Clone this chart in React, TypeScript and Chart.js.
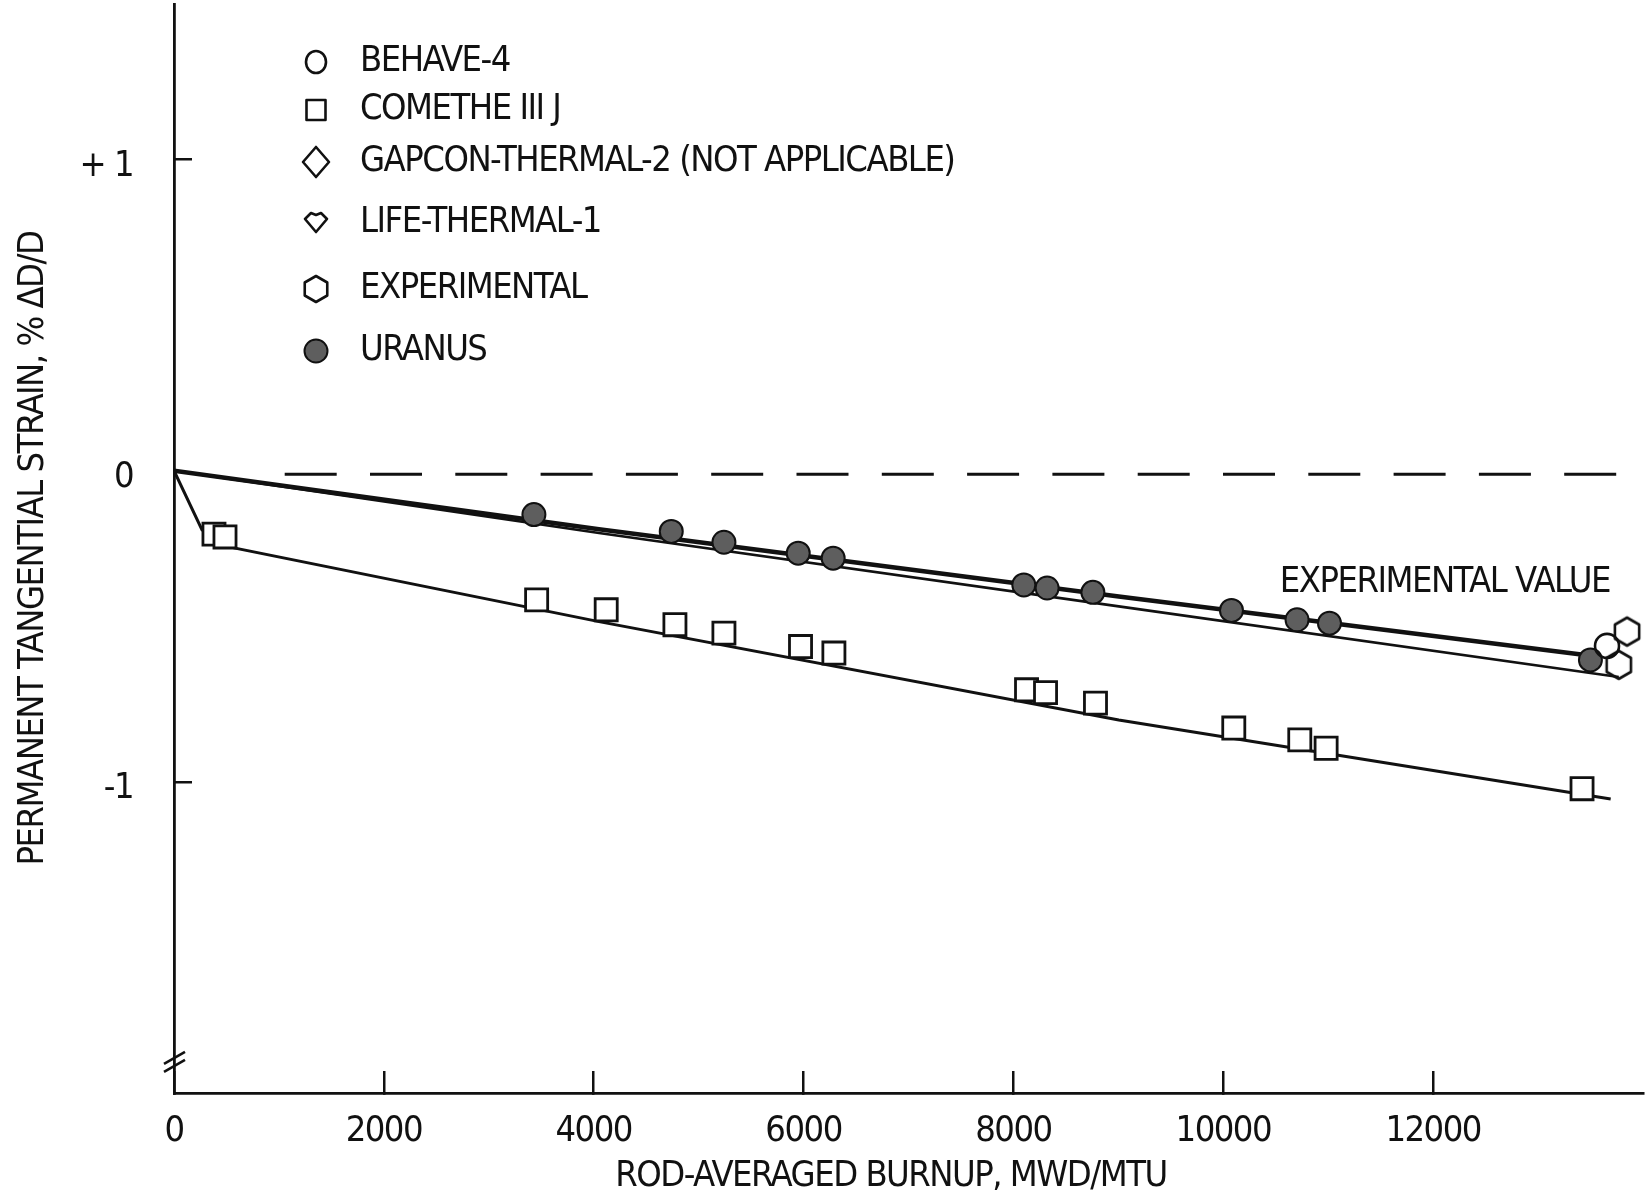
import React, { useEffect, useRef } from 'react';
import { Chart, registerables } from 'chart.js';

Chart.register(...registerables);

const FONT_FAMILY = "'Liberation Sans Narrow', 'Arial Narrow', 'DejaVu Sans Condensed', 'Liberation Sans', sans-serif";

// ---- data (burnup in MWD/MTU, strain in % dD/D) ----
const uranusBurnup = [3430, 4739, 5241, 5949, 6282, 8099, 8321, 8757, 10078, 10703, 11012, 13499];
const uranusStrain = [-0.141, -0.195, -0.230, -0.265, -0.281, -0.367, -0.377, -0.391, -0.449, -0.479, -0.490, -0.608];

const cometheBurnup = [381, 486, 3456, 4119, 4774, 5241, 5971, 6289, 8125, 8306, 8782, 10100, 10729, 10980, 13419];
const cometheStrain = [-0.204, -0.213, -0.415, -0.447, -0.495, -0.522, -0.565, -0.586, -0.704, -0.713, -0.747, -0.827, -0.865, -0.892, -1.022];

const behaveBurnup = [13657];
const behaveStrain = [-0.563];

const experimentalBurnup = [13848, 13769];
const experimentalStrain = [-0.517, -0.624];

const uranusCurveBurnup = [0, 4050, 9004, 13450];
const uranusCurveStrain = [0, -0.188, -0.404, -0.592];

const modelCurveBurnup = [0, 4050, 9004, 13769];
const modelCurveStrain = [0, -0.2, -0.436, -0.663];

const cometheCurveBurnup = [0, 267, 572, 4050, 9004, 13692];
const cometheCurveStrain = [0, -0.19, -0.248, -0.485, -0.801, -1.055];

const zeroRefBurnup = [1055, 13750];
const zeroRefStrain = [-0.011, -0.011];

const xTickValues = [0, 2000, 4000, 6000, 8000, 10000, 12000];
const yTickValues = [-1, 0, 1];
const yTickLabels = ['-1', '0', '+ 1'];

const legendLabels = ['BEHAVE-4', 'COMETHE III J', 'GAPCON-THERMAL-2 (NOT APPLICABLE)', 'LIFE-THERMAL-1', 'EXPERIMENTAL', 'URANUS'];
const legendSymbols = ['circle', 'square', 'diamond', 'lifeDiamond', 'hexagon', 'filledCircle'];

const annotationText = 'EXPERIMENTAL VALUE';
const annotationBurnup = 12112;
const annotationStrain = -0.36;
const axisBreakStrain = -1.9;

const xTitle = 'ROD-AVERAGED BURNUP, MWD/MTU    ';
const yTitle = 'PERMANENT TANGENTIAL STRAIN, % \u0394D/D';

// ---- layout / style constants ----
const W = 1647;
const H = 1200;
const FONT_SIZE = 36;
const LETTER_SPACING = '-1.5px';
const INK = '#111';
const URANUS_FILL = '#5e5e5e';
const legendRowsY = [62, 110, 162, 223, 289, 351];
const LEGEND_SYMBOL_X = 316;
const LEGEND_TEXT_X = 360;

const pts = (xs: number[], ys: number[]) => xs.map((x, i) => ({ x, y: ys[i] }));

function hexPath(ctx: CanvasRenderingContext2D, cx: number, cy: number, r: number) {
  ctx.beginPath();
  for (let i = 0; i < 6; i++) {
    const a = ((-90 + i * 60) * Math.PI) / 180;
    const px = cx + r * Math.cos(a);
    const py = cy + r * Math.sin(a);
    if (i === 0) ctx.moveTo(px, py);
    else ctx.lineTo(px, py);
  }
  ctx.closePath();
}

function makeHexagonImage(r: number, lw: number): HTMLCanvasElement {
  const c = document.createElement('canvas');
  const s = Math.ceil(2 * r + 2 * lw + 2);
  c.width = s;
  c.height = s;
  const ctx = c.getContext('2d') as CanvasRenderingContext2D;
  hexPath(ctx, s / 2, s / 2, r);
  ctx.lineWidth = lw;
  ctx.strokeStyle = INK;
  ctx.lineJoin = 'round';
  ctx.stroke();
  return c;
}

function drawLegendSymbol(ctx: CanvasRenderingContext2D, kind: string, x: number, y: number) {
  ctx.save();
  ctx.strokeStyle = INK;
  ctx.lineWidth = 2.6;
  ctx.lineJoin = 'round';
  ctx.beginPath();
  if (kind === 'circle') {
    ctx.ellipse(x, y, 10, 11, 0, 0, Math.PI * 2);
    ctx.stroke();
  } else if (kind === 'square') {
    ctx.rect(x - 9.5, y - 10, 19, 20);
    ctx.stroke();
  } else if (kind === 'diamond') {
    ctx.moveTo(x, y - 15);
    ctx.lineTo(x + 13, y);
    ctx.lineTo(x, y + 15);
    ctx.lineTo(x - 13, y);
    ctx.closePath();
    ctx.stroke();
  } else if (kind === 'lifeDiamond') {
    ctx.moveTo(x - 11, y - 4);
    ctx.lineTo(x - 5, y - 10);
    ctx.lineTo(x, y - 8);
    ctx.lineTo(x + 5, y - 10);
    ctx.lineTo(x + 11, y - 4);
    ctx.lineTo(x, y + 9);
    ctx.closePath();
    ctx.stroke();
  } else if (kind === 'hexagon') {
    hexPath(ctx, x, y, 13);
    ctx.stroke();
  } else if (kind === 'filledCircle') {
    ctx.arc(x, y, 11.5, 0, Math.PI * 2);
    ctx.fillStyle = URANUS_FILL;
    ctx.fill();
    ctx.lineWidth = 2;
    ctx.stroke();
  }
  ctx.restore();
}

const textStylePlugin = {
  id: 'condensedText',
  beforeDraw(chart: any) {
    (chart.ctx as any).letterSpacing = LETTER_SPACING;
  },
};

const legendPlugin = {
  id: 'paperLegend',
  afterDraw(chart: any) {
    const ctx = chart.ctx as CanvasRenderingContext2D;
    ctx.save();
    (ctx as any).letterSpacing = LETTER_SPACING;
    ctx.font = `${FONT_SIZE}px ${FONT_FAMILY}`;
    ctx.fillStyle = INK;
    ctx.textAlign = 'left';
    ctx.textBaseline = 'middle';
    legendLabels.forEach((label, i) => {
      drawLegendSymbol(ctx, legendSymbols[i], LEGEND_SYMBOL_X, legendRowsY[i]);
      ctx.fillText(label, LEGEND_TEXT_X, legendRowsY[i]);
    });
    ctx.restore();
  },
};

const annotationPlugin = {
  id: 'paperAnnotation',
  afterDraw(chart: any) {
    const ctx = chart.ctx as CanvasRenderingContext2D;
    const x = chart.scales.x.getPixelForValue(annotationBurnup);
    const y = chart.scales.y.getPixelForValue(annotationStrain);
    ctx.save();
    (ctx as any).letterSpacing = LETTER_SPACING;
    ctx.font = `${FONT_SIZE}px ${FONT_FAMILY}`;
    ctx.fillStyle = INK;
    ctx.textAlign = 'center';
    ctx.textBaseline = 'middle';
    ctx.fillText(annotationText, x, y);
    ctx.restore();
  },
};

const axisBreakPlugin = {
  id: 'axisBreak',
  afterDraw(chart: any) {
    const ctx = chart.ctx as CanvasRenderingContext2D;
    const x = chart.chartArea.left;
    const y = chart.scales.y.getPixelForValue(axisBreakStrain);
    ctx.save();
    ctx.strokeStyle = INK;
    ctx.lineWidth = 2.5;
    [-4, 4].forEach((d) => {
      ctx.beginPath();
      ctx.moveTo(x - 10, y + d + 6);
      ctx.lineTo(x + 11, y + d - 6);
      ctx.stroke();
    });
    ctx.restore();
  },
};

export default function App() {
  const canvasRef = useRef<HTMLCanvasElement | null>(null);

  useEffect(() => {
    const canvas = canvasRef.current;
    if (!canvas) return;
    const hexImage = makeHexagonImage(14, 2.6);

    const chart = new Chart(canvas, {
      type: 'scatter',
      data: {
        datasets: [
          {
            label: 'EXPERIMENTAL',
            data: pts(experimentalBurnup, experimentalStrain),
            pointStyle: hexImage as any,
            pointRadius: 14,
            order: 0,
          },
          {
            label: 'BEHAVE-4',
            data: pts(behaveBurnup, behaveStrain),
            pointStyle: 'circle',
            pointRadius: 12,
            borderColor: INK,
            backgroundColor: 'rgba(255,255,255,0)',
            borderWidth: 2.6,
            order: 1,
          },
          {
            label: 'COMETHE III J',
            data: pts(cometheBurnup, cometheStrain),
            pointStyle: 'rect',
            pointRadius: 15.6,
            borderColor: INK,
            backgroundColor: '#ffffff',
            borderWidth: 2.8,
            order: 2,
          },
          {
            label: 'URANUS',
            data: pts(uranusBurnup, uranusStrain),
            pointStyle: 'circle',
            pointRadius: 11.5,
            borderColor: INK,
            backgroundColor: URANUS_FILL,
            borderWidth: 2,
            order: 3,
          },
          {
            label: 'URANUS calculation',
            data: pts(uranusCurveBurnup, uranusCurveStrain),
            showLine: true,
            pointRadius: 0,
            borderColor: INK,
            borderWidth: 4.5,
            order: 4,
          },
          {
            label: 'Model calculation',
            data: pts(modelCurveBurnup, modelCurveStrain),
            showLine: true,
            pointRadius: 0,
            borderColor: INK,
            borderWidth: 2.6,
            order: 5,
          },
          {
            label: 'COMETHE III J calculation',
            data: pts(cometheCurveBurnup, cometheCurveStrain),
            showLine: true,
            pointRadius: 0,
            borderColor: INK,
            borderWidth: 3,
            order: 6,
          },
          {
            label: 'Zero reference',
            data: pts(zeroRefBurnup, zeroRefStrain),
            showLine: true,
            pointRadius: 0,
            borderColor: INK,
            borderWidth: 3,
            borderDash: [52, 33.3],
            order: 7,
          },
        ],
      },
      options: {
        responsive: false,
        devicePixelRatio: 1,
        animation: false,
        events: [],
        layout: { autoPadding: false, padding: { top: 4, right: 4, left: 0, bottom: 0 } },
        elements: { line: { tension: 0, borderCapStyle: 'butt' } },
        plugins: {
          legend: { display: false },
          tooltip: { enabled: false },
        },
        scales: {
          x: {
            type: 'linear',
            position: 'bottom',
            min: 0,
            max: 14000,
            afterBuildTicks: (scale: any) => {
              scale.ticks = xTickValues.map((v) => ({ value: v }));
            },
            afterFit: (scale: any) => {
              scale.height = 107;
              scale.paddingLeft = 0;
              scale.paddingRight = 0;
            },
            ticks: {
              autoSkip: false,
              maxRotation: 0,
              padding: 39,
              color: INK,
              font: { family: FONT_FAMILY, size: FONT_SIZE },
              callback: (v: any) => String(v),
            },
            grid: {
              display: true,
              drawOnChartArea: false,
              drawTicks: true,
              tickLength: -22,
              color: INK,
              lineWidth: 2.5,
            },
            border: { display: true, color: INK, width: 2.8 },
            title: {
              display: true,
              text: xTitle,
              color: INK,
              font: { family: FONT_FAMILY, size: FONT_SIZE },
              padding: { top: 0, bottom: 2 },
            },
          },
          y: {
            type: 'linear',
            position: 'left',
            min: -2,
            max: 1.5,
            afterBuildTicks: (scale: any) => {
              scale.ticks = yTickValues.map((v) => ({ value: v }));
            },
            afterFit: (scale: any) => {
              scale.width = 174;
              scale.paddingTop = 0;
              scale.paddingBottom = 0;
            },
            ticks: {
              autoSkip: false,
              padding: 59,
              labelOffset: 7,
              color: INK,
              font: { family: FONT_FAMILY, size: FONT_SIZE },
              callback: (v: any) => {
                const idx = yTickValues.indexOf(Number(v));
                return idx >= 0 ? yTickLabels[idx] : '';
              },
            },
            grid: {
              display: true,
              drawOnChartArea: false,
              drawTicks: true,
              tickLength: -18,
              color: (c: any) => (c.tick && c.tick.value === 0 ? 'rgba(0,0,0,0)' : INK),
              lineWidth: 2.5,
            },
            border: { display: true, color: INK, width: 2.8 },
            title: {
              display: true,
              text: yTitle,
              color: INK,
              font: { family: FONT_FAMILY, size: FONT_SIZE },
              padding: { top: 12, bottom: 0 },
            },
          },
        },
      },
      plugins: [textStylePlugin, legendPlugin, annotationPlugin, axisBreakPlugin],
    } as any);

    return () => {
      chart.destroy();
    };
  }, []);

  return (
    <div style={{ position: 'absolute', left: 0, top: 0, width: W, height: H, background: '#ffffff' }}>
      <canvas ref={canvasRef} width={W} height={H} style={{ display: 'block' }} />
    </div>
  );
}
